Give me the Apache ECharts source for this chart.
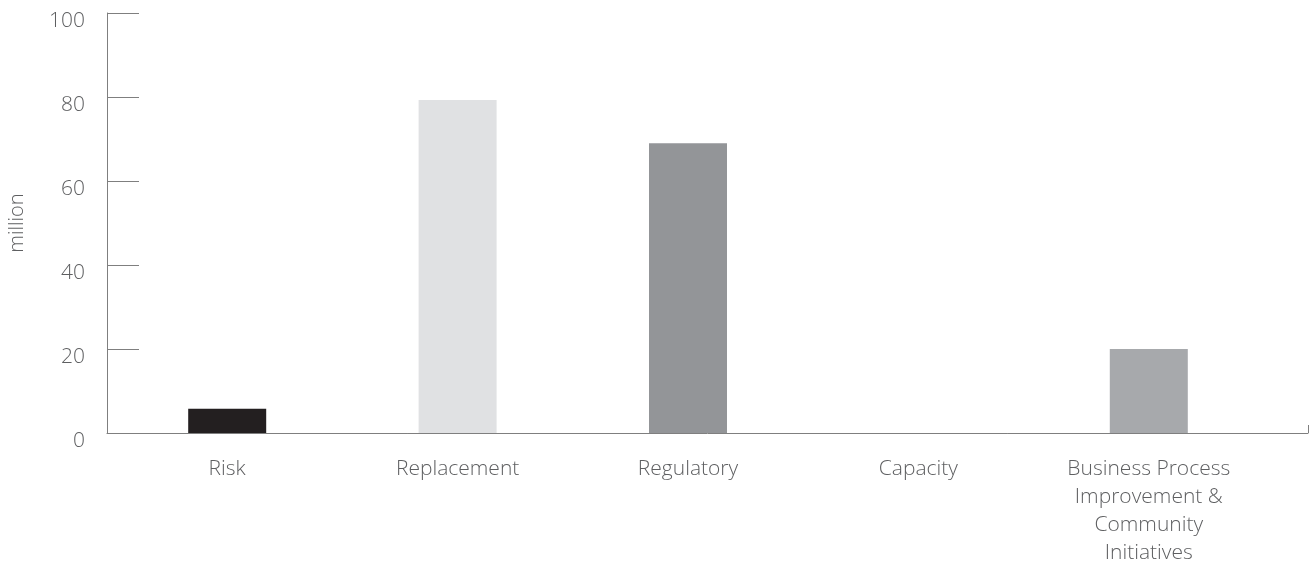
<!DOCTYPE html>
<html>
<head>
<meta charset="utf-8">
<script src="https://cdn.jsdelivr.net/npm/echarts@6/dist/echarts.min.js"></script>
<style>
  html, body { margin: 0; padding: 0; background: #ffffff; }
  #chart { width: 1314px; height: 566px; }
</style>
</head>
<body>
<div id="chart"></div>
<script>
// Categories and values (million)
const categories = ['Risk', 'Replacement', 'Regulatory', 'Capacity', 'Business Process\nImprovement &\nCommunity\nInitiatives'];
const values = [5.8, 79.3, 69.0, 0, 20.0];
const barColors = ['#231f20', '#e0e1e3', '#939598', '#bcbec0', '#a7a9ac'];
const yTicks = [0, 20, 40, 60, 80, 100];

const axisColor = '#7f7f7f';
const textColor = '#5e5f61';

const chart = echarts.init(document.getElementById('chart'));

const option = {
  animation: false,
  textStyle: { fontFamily: 'Open Sans', fontWeight: 300 },
  grid: [{
    // bars and category labels
    left: 112,
    right: 50,
    top: 13,
    bottom: 133,
    outerBoundsMode: 'none'
  }, {
    // full-width baseline with closing tick
    left: 107,
    right: 6,
    top: 13,
    bottom: 133,
    outerBoundsMode: 'none'
  }],
  xAxis: [{
    type: 'category',
    gridIndex: 0,
    data: categories,
    axisLine: { show: false },
    axisTick: { show: false },
    axisLabel: {
      interval: 0,
      color: textColor,
      fontWeight: 300,
      fontSize: 21,
      lineHeight: 28,
      margin: 22
    }
  }, {
    type: 'value',
    gridIndex: 1,
    min: 0,
    max: 1,
    interval: 1,
    axisLine: { show: true, lineStyle: { color: axisColor, width: 1 } },
    axisTick: { show: true, inside: true, length: 8, lineStyle: { color: axisColor } },
    axisLabel: { show: false },
    splitLine: { show: false }
  }],
  yAxis: [{
    type: 'value',
    gridIndex: 0,
    min: yTicks[0],
    max: yTicks[yTicks.length - 1],
    interval: 20,
    offset: 5,
    name: 'million',
    nameLocation: 'middle',
    nameGap: 80,
    nameTextStyle: { color: textColor, fontSize: 20, fontWeight: 300 },
    axisLine: { show: true, lineStyle: { color: axisColor, width: 1 } },
    axisTick: {
      show: true,
      inside: true,
      length: 32,
      lineStyle: { color: axisColor }
    },
    splitLine: { show: false },
    axisLabel: {
      color: textColor,
      fontWeight: 300,
      fontSize: 21,
      margin: 22,
      verticalAlign: 'top',
      padding: [-2, 0, 0, 0]
    }
  }, {
    type: 'value',
    gridIndex: 1,
    min: 0,
    max: 1,
    show: false
  }],
  series: [{
    type: 'bar',
    xAxisIndex: 0,
    yAxisIndex: 0,
    barWidth: 78,
    data: values.map((v, i) => ({ value: v, itemStyle: { color: barColors[i] } }))
  }]
};

chart.setOption(option);
</script>
</body>
</html>
